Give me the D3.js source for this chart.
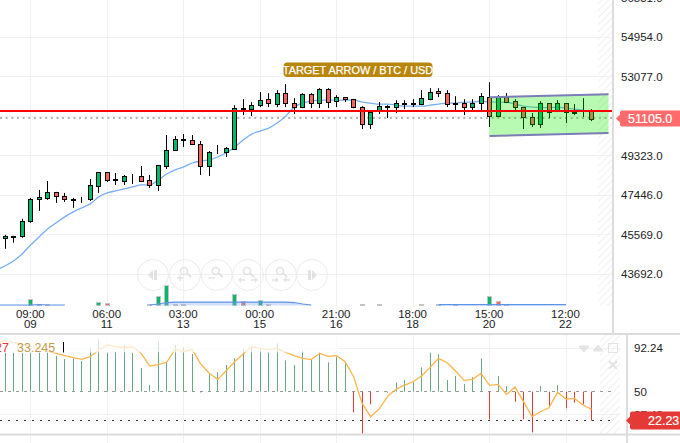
<!DOCTYPE html>
<html>
<head>
<meta charset="utf-8">
<style>
html, body { margin: 0; padding: 0; background: #fff; overflow: hidden; }
svg { display: block; font-family: "Liberation Sans", Arial, sans-serif; }
.domain { display: none; }
</style>
<script src="https://cdnjs.cloudflare.com/ajax/libs/d3/7.8.5/d3.min.js"></script>
</head>
<body>
<script>
//Price bars
var opens = [45365,45436,45460,46171,47214,47261,47545,47356,47190,47214,47214,47830,48493,48114,48067,48304,48304,48114,47877,48778,49584,50058,50058,49868,48778,49442,49489,49631,51527,51527,51717,52001,51764,52286,51812,51622,52238,51812,52475,51906,52096,52001,51622,50816,51480,51622,51622,51764,51764,51764,52001,52380,52286,51764,51812,51622,51812,52096,51195,52096,51906,51622,51148,50816,51812,51432,51812,51338,51432,51432];
var highs = [45555,45507,46313,47308,47688,48114,47593,47545,47308,47356,48209,48493,48493,48493,48399,48446,48825,48399,48873,50295,50247,50342,50295,50010,49536,49821,49726,51717,52001,51859,52333,52286,52428,52712,52049,52286,52286,52522,52522,52191,52096,52001,51669,51385,51859,51717,51954,51954,52001,52428,52522,52522,52428,52143,52001,52001,52286,52807,52191,52286,52001,51622,51338,51906,51812,51954,51812,51764,52049,51527];
var lows = [44891,45175,45412,46124,46692,47214,47072,47119,46834,47072,47166,47545,48067,47925,47925,47972,48067,47782,47640,48683,49536,49726,49868,48399,48351,49394,49252,49631,51243,51195,51622,51622,51622,51622,51290,51575,51575,51575,51575,51622,51859,51575,50579,50579,51290,51100,51338,51527,51622,51717,51954,52096,51622,51432,51243,51432,51480,50674,51148,51812,51480,50579,50674,50627,51100,51385,50864,51243,51148,50958];
var closes = [45460,45484,46171,47214,47308,47545,47356,47214,47237,47237,47877,48493,48114,48162,48304,48328,48067,47877,48825,49584,50105,50105,49868,48778,49442,49489,49678,51575,51575,51717,51954,51812,52286,51812,51622,52238,51812,52475,51859,52096,52001,51622,50816,51385,51669,51669,51812,51812,51812,52049,52333,52286,51764,51812,51622,51812,52143,51195,52096,51859,51622,51148,50816,51812,51385,51812,51385,51385,51480,51053];

//Moving average on the price pane, first value is the bar before the window
var priceMA = [43896,44085,44322,44654,45081,45460,45839,46124,46408,46645,46834,47024,47356,47545,47640,47735,47830,47925,47925,48162,48446,48636,48778,48967,49062,49110,49252,49442,49726,50058,50342,50484,50627,50864,51195,51622,51812,51906,51954,51954,51954,51954,51954,51859,51812,51764,51764,51717,51669,51669,51669,51717,51764,51812,51812,51859,51859,51906,51859,51859,51859,51764,51669,51622,51598,51598,51622,51575,51527,51480];

//Volume: positive is an up bar, negative a down bar
var volumes = [0,0,0,6,-1.5,1.5,0,0,0,0,0,3,-2,0.5,0.5,0.5,0.5,1,9,20,-1.5,-1,0.5,0.5,0.5,0.5,0.5,11,-4.5,0.5,5,-1,0.5,0.5,0.5,0.5,0.5,0.5,0.5,0.5,0.5,0.5,1.5,0.5,1.5,0.5,0.5,0.5,0.5,1.5,0.5,1,0.5,1.5,0.5,0.5,0.5,9.5,-4.5,-1,0.5,0.5,0.5,0.5,0.5,0.5,0.5,0.5,0.5,0.5];
var volumeMA = [0.5,0.5,0.5,0.5,0.5,1,0.5,0.5,0.5,0,0,0,0,0,0,0,0,0,0.5,1.5,3,3.5,3.5,3.5,3.5,3.5,3.5,3.5,3.5,3.5,3.5,3.5,3.5,3.5,3.5,3,1.5,0.5,0,0,0,0,0,0,0,0,0,0,0,0,0,0,0.8,0.8,0.8,0.8,0.8,0.8,0.8,0.8,0.8,0.8,0.8,0.8,0.8,0.8,0.8,0.8];

//Lower pane
var histogram = [88,88,88,88,88,88,84.7,81.8,82.5,79.9,92.2,101,88,89,95.4,88,73,56.5,99.3,79.2,95.4,92.8,86.7,49.4,66.9,68.8,76,82.5,91.5,94.5,92.2,88.3,97,80.5,76,90.3,80.8,88.3,78.6,84,77.6,29.9,9.1,37.7,50,49.2,59,61.4,60.4,73.7,88,86.4,61.4,65.3,57.5,64,82.5,23.1,65.3,55.5,40.3,23.1,10.4,55.5,36.4,56.5,33.8,39.3,37.7,21.8];
var signal = [99.3,99.3,98,96.1,93.8,92.2,89.6,87.3,85.1,83.1,81.5,84.1,90.6,95.4,93.8,92.8,93.8,87.3,75,76.3,78.6,91.5,89,91.2,76.9,67.9,62,70.4,79.2,86.7,93.8,92.2,90.9,92.2,88.3,85.1,82.5,81.2,87.3,84.4,85.1,79.2,64.6,38.6,25.7,33.1,45.5,52.3,56.5,59.7,65.3,73.7,82.5,78.2,70.1,61,62,67.9,56.2,57.1,47.4,54.5,40.3,25.7,30.5,34.4,49.4,42.9,43.5,37,32.8];

//Tick labels
var priceTicks = [56831,54954,53077,51200,49323,47446,45569,43692];
var lowerTicks = [92.24,50,27.48];
var timeTickIndex = [3,12,21,30,39,48,57,66];
var timeLabels = ["09:00","06:00","03:00","00:00","21:00","18:00","15:00","12:00"];
var dayLabels = ["09","11","13","15","16","18","20","22"];

//Drawn objects on the price pane
var targetPrice = 51432;
var lastPrice = 51105;
var channelIndex = [57,71];
var channelTop = [52096,52238];
var channelBottom = [50247,50390];

//Width and height
var w = 680;
var h = 443;
var mainRight = 613;
var volumeBase = 305.5;

var upColor = "#00b96b";
var downColor = "#f4665c";
var gridColor = "#f1f1f1";
var sepColor = "#dcdcdc";

//Scales
var x = d3.scaleLinear().domain([0,69]).range([5.3,591.5]);
var y = d3.scaleLinear().domain([49323,43692]).range([155.5,274]);
var yVol = d3.scaleLinear().domain([0,20]).range([volumeBase,285.7]);
var yLow = d3.scaleLinear().domain([50,92.24]).range([391.7,348.3]);

//Keep thin marks on whole pixels
function snap(v) { return Math.round(v - 0.5) + 0.5; }

//Create SVG element
var svg = d3.select("body")
	.append("svg")
	.attr("width", w)
	.attr("height", h);

//Hatch for the empty area on the right
var defs = svg.append("defs");
var hatch = defs.append("pattern")
	.attr("id", "hatch")
	.attr("width", 5)
	.attr("height", 5)
	.attr("patternUnits", "userSpaceOnUse")
	.attr("patternTransform", "rotate(45)");
hatch.append("line")
	.attr("x1", 0).attr("y1", 0).attr("x2", 0).attr("y2", 5)
	.attr("stroke", "#f0f0f0")
	.attr("stroke-width", 2);

svg.append("rect").attr("x", 598).attr("y", 0).attr("width", 15).attr("height", 306).attr("fill", "url(#hatch)");
svg.append("rect").attr("x", 600).attr("y", 335).attr("width", 20).attr("height", 99).attr("fill", "url(#hatch)");

//Grid
var grid = svg.append("g").attr("fill", "none").attr("stroke", gridColor);
grid.selectAll(".vMain").data(timeTickIndex).enter().append("line")
	.attr("x1", function(d) { return snap(x(d)); }).attr("x2", function(d) { return snap(x(d)); })
	.attr("y1", 0).attr("y2", volumeBase);
grid.selectAll(".vLow").data(timeTickIndex).enter().append("line")
	.attr("x1", function(d) { return snap(x(d)); }).attr("x2", function(d) { return snap(x(d)); })
	.attr("y1", 335).attr("y2", h);
grid.selectAll(".hMain").data(priceTicks).enter().append("line")
	.attr("x1", 0).attr("x2", mainRight)
	.attr("y1", function(d) { return snap(y(d)); }).attr("y2", function(d) { return snap(y(d)); });
grid.selectAll(".hLow").data([92.24,27.48]).enter().append("line")
	.attr("x1", 0).attr("x2", 620)
	.attr("y1", function(d) { return snap(yLow(d)); }).attr("y2", function(d) { return snap(yLow(d)); });

//Dotted last price line
svg.append("line")
	.attr("x1", 0).attr("x2", mainRight)
	.attr("y1", y(lastPrice)).attr("y2", y(lastPrice))
	.attr("stroke", "#999")
	.attr("stroke-width", 1.5)
	.attr("stroke-dasharray", "2,3.65");

//Volume bars
var volBars = volumes.map(function(v, i) { return {i: i, v: v}; })
	.filter(function(d) { return Math.abs(d.v) >= 1; });
svg.selectAll(".vol").data(volBars).enter().append("rect")
	.attr("x", function(d) { return snap(x(d.i)) - 2; })
	.attr("y", function(d) { return snap(yVol(Math.abs(d.v))); })
	.attr("width", 4)
	.attr("height", function(d) { return volumeBase - snap(yVol(Math.abs(d.v))); })
	.attr("fill", function(d) { return d.v > 0 ? upColor : downColor; })
	.attr("stroke", "#c4c4c4")
	.attr("stroke-width", 1);

//Volume average
var volArea = d3.area()
	.defined(function(d) { return d > 0; })
	.x(function(d, i) { return x(i - 1); })
	.y0(volumeBase)
	.y1(function(d) { return yVol(d); });
var volLine = d3.line()
	.defined(function(d) { return d > 0; })
	.x(function(d, i) { return x(i - 1); })
	.y(function(d) { return yVol(d); });
svg.append("path").attr("d", volArea(volumeMA)).attr("fill", "#7fa8ee").attr("fill-opacity", 0.35);
svg.append("path").attr("d", volLine(volumeMA)).attr("fill", "none").attr("stroke", "#5f93ea").attr("stroke-width", 1.2);

//Price moving average
var maLine = d3.line()
	.curve(d3.curveMonotoneX)
	.x(function(d, i) { return x(i - 1); })
	.y(function(d) { return y(d); });
svg.append("path")
	.attr("d", maLine(priceMA))
	.attr("fill", "none")
	.attr("stroke", "#78aef5")
	.attr("stroke-width", 1.3);

//Candles
var candles = svg.append("g").selectAll("g")
	.data(opens)
	.enter()
	.append("g");
candles.append("line")
	.attr("x1", function(d, i) { return snap(x(i)); })
	.attr("x2", function(d, i) { return snap(x(i)); })
	.attr("y1", function(d, i) { return y(highs[i]); })
	.attr("y2", function(d, i) { return y(lows[i]); })
	.attr("stroke", "#000")
	.attr("stroke-width", 1);
candles.append("rect")
	.attr("x", function(d, i) { return snap(x(i)) - 2; })
	.attr("y", function(d, i) { return snap(y(Math.max(opens[i], closes[i]))); })
	.attr("width", 4)
	.attr("height", function(d, i) { return snap(y(Math.min(opens[i], closes[i]))) - snap(y(Math.max(opens[i], closes[i]))); })
	.attr("fill", function(d, i) { return closes[i] >= opens[i] ? upColor : downColor; })
	.attr("stroke", "#000")
	.attr("stroke-width", 1);

//Green channel
var channelShape = channelIndex.map(function(d, i) { return [x(d), y(channelTop[i])]; })
	.concat(channelIndex.map(function(d, i) { return [x(d), y(channelBottom[i])]; }).reverse());
svg.append("path")
	.attr("d", d3.line()(channelShape) + "Z")
	.attr("fill", "rgb(20,240,0)")
	.attr("fill-opacity", 0.3);
[channelTop, channelBottom].forEach(function(edge) {
	svg.append("line")
		.attr("x1", x(channelIndex[0])).attr("x2", x(channelIndex[1]))
		.attr("y1", y(edge[0])).attr("y2", y(edge[1]))
		.attr("stroke", "#7c7cb8")
		.attr("stroke-width", 2);
});

//Red target line
svg.append("line")
	.attr("x1", 0).attr("x2", mainRight)
	.attr("y1", y(targetPrice)).attr("y2", y(targetPrice))
	.attr("stroke", "#f00")
	.attr("stroke-width", 2);

//Title tag
svg.append("rect")
	.attr("x", 283.5).attr("y", 62.5)
	.attr("width", 149).attr("height", 14.5).attr("rx", 4)
	.attr("fill", "#b8860b");
svg.append("text")
	.attr("x", 358).attr("y", 74)
	.attr("text-anchor", "middle")
	.attr("font-size", 10.9)
	.attr("fill", "#fff")
	.attr("stroke", "#fff")
	.attr("stroke-width", 0.25)
	.text("TARGET ARROW / BTC / USD");

//Navigation buttons
var navCenters = [153,185,216.7,248,281,312];
var navColor = "#e2e2e2";
var nav = svg.append("g").selectAll("g").data(navCenters).enter().append("g")
	.attr("transform", function(d) { return "translate(" + d + ",275)"; });
nav.append("circle").attr("r", 15.5).attr("fill", "none").attr("stroke", "#ececec").attr("stroke-width", 1);
nav.each(function(d, i) {
	var g = d3.select(this);
	if (i == 0) {
		g.append("path").attr("d", "M-5,0L0,-5V5Z").attr("fill", navColor);
		g.append("rect").attr("x", 1).attr("y", -5).attr("width", 3).attr("height", 10).attr("fill", navColor);
	} else if (i == 5) {
		g.append("path").attr("d", "M5,0L0,-5V5Z").attr("fill", navColor);
		g.append("rect").attr("x", -4).attr("y", -5).attr("width", 3).attr("height", 10).attr("fill", navColor);
	} else {
		g.append("circle").attr("cx", -1).attr("cy", -4).attr("r", 3.5).attr("fill", "none").attr("stroke", navColor).attr("stroke-width", 1.5);
		g.append("line").attr("x1", 2).attr("y1", -1.5).attr("x2", 6).attr("y2", 2).attr("stroke", navColor).attr("stroke-width", 2);
		var mark = {1: "M-8,3H-2M-5,0V6", 2: "M-8,3H-2", 3: "M-9,5H-3M-9,5l2,-2M-9,5l2,2M3,5H9M9,5l-2,-2M9,5l-2,2", 4: "M-9,5H-3M-3,5l-2,-2M-3,5l-2,2M3,5H9M3,5l2,-2M3,5l2,2"}[i];
		g.append("path").attr("d", mark).attr("fill", "none").attr("stroke", navColor).attr("stroke-width", 1.3);
	}
});

//Time axis, two rows of labels
var timeAxis = d3.axisBottom(x)
	.tickValues(timeTickIndex)
	.tickSize(0)
	.tickFormat(function(d, i) { return timeLabels[i]; });
var dayAxis = d3.axisBottom(x)
	.tickValues(timeTickIndex)
	.tickSize(0)
	.tickFormat(function(d, i) { return dayLabels[i]; });
svg.append("g").attr("transform", "translate(-1,307)").call(timeAxis);
svg.append("g").attr("transform", "translate(-1,317)").call(dayAxis);

//Price axis
var priceAxis = d3.axisRight(y)
	.tickValues(priceTicks)
	.tickSize(0)
	.tickFormat(d3.format(".1f"));
svg.append("g").attr("transform", "translate(618,0)").call(priceAxis);

//Lower pane reference lines
svg.append("line")
	.attr("x1", 0).attr("x2", 615)
	.attr("y1", snap(yLow(50))).attr("y2", snap(yLow(50)))
	.attr("stroke", "#999").attr("stroke-dasharray", "3,5");
svg.append("line")
	.attr("x1", 0).attr("x2", 615)
	.attr("y1", snap(yLow(21.5))).attr("y2", snap(yLow(21.5)))
	.attr("stroke", "#333").attr("stroke-dasharray", "2,6");

//Histogram
svg.append("g").selectAll("line")
	.data(histogram)
	.enter()
	.append("line")
	.attr("x1", function(d, i) { return snap(x(i)); })
	.attr("x2", function(d, i) { return snap(x(i)); })
	.attr("y1", yLow(50))
	.attr("y2", function(d) { return yLow(d); })
	.attr("stroke", function(d) { return d >= 50 ? "#6aa883" : "#e53935"; })
	.attr("stroke-width", 1);

//Signal line
var signalLine = d3.line()
	.x(function(d, i) { return x(i - 1); })
	.y(function(d) { return yLow(d); });
svg.append("path")
	.attr("d", signalLine(signal))
	.attr("fill", "none")
	.attr("stroke", "#ffb54d")
	.attr("stroke-width", 1.3);

//Legend row washes out what is behind it
svg.append("rect")
	.attr("x", 0).attr("y", 335)
	.attr("width", 338).attr("height", 17.5)
	.attr("fill", "#fff").attr("fill-opacity", 0.7);
svg.append("text").attr("x", 9).attr("y", 352).attr("text-anchor", "end")
	.attr("font-size", 12.5).attr("fill", "#e53935").text("27");
svg.append("text").attr("x", 17).attr("y", 352)
	.attr("font-size", 12.5).attr("fill", "#c49a50").text("33.245");
svg.append("line").attr("x1", 63.5).attr("x2", 63.5).attr("y1", 342).attr("y2", 352.5).attr("stroke", "#000");

//Pane controls
var ctrl = "#e4e4e4";
svg.append("path").attr("d", "M580,346.5h8l-4,4.5Z").attr("fill", ctrl).attr("stroke", ctrl).attr("stroke-width", 2).attr("stroke-linejoin", "round");
svg.append("path").attr("d", "M594,350.5l4,-4.5l4,4.5Z").attr("fill", ctrl).attr("stroke", ctrl).attr("stroke-width", 2).attr("stroke-linejoin", "round");
svg.append("rect").attr("x", 608.5).attr("y", 343.5).attr("width", 9).attr("height", 9).attr("fill", "none").attr("stroke", ctrl);
svg.append("path").attr("d", "M609,361l8,8M617,361l-8,8").attr("stroke", ctrl).attr("stroke-width", 2);

//Lower axis
var lowerAxis = d3.axisRight(yLow)
	.tickValues(lowerTicks)
	.tickSize(0)
	.tickFormat(function(d) { return d; });
svg.append("g").attr("transform", "translate(631,0)").call(lowerAxis);

//Axis text
svg.selectAll(".tick text")
	.attr("font-family", "Liberation Sans, Arial, sans-serif")
	.attr("font-size", 11.5)
	.attr("fill", "#222");

//Separators
svg.append("rect").attr("x", 612).attr("y", 0).attr("width", 2).attr("height", 334).attr("fill", sepColor);
svg.append("rect").attr("x", 626).attr("y", 334).attr("width", 2).attr("height", 109).attr("fill", sepColor);
svg.append("rect").attr("x", 0).attr("y", 333).attr("width", w).attr("height", 2).attr("fill", sepColor);
svg.append("rect").attr("x", 0).attr("y", 433.5).attr("width", w).attr("height", 2).attr("fill", sepColor);

//Price tags
function tag(top, bottom, left, color) {
	var mid = (top + bottom) / 2;
	svg.append("path")
		.attr("d", "M" + (left - 2) + "," + mid + "L" + (left + 2) + "," + (mid - 4) + "V" + (top + 2) + "Q" + (left + 2) + "," + top + " " + (left + 4) + "," + top
			+ "H" + w + "V" + bottom + "H" + (left + 4) + "Q" + (left + 2) + "," + bottom + " " + (left + 2) + "," + (bottom - 2) + "V" + (mid + 4) + "Z")
		.attr("fill", color);
}
tag(110.5, 126.5, 618, "#ff6b6b");
svg.append("text").attr("x", 628).attr("y", 122.7)
	.attr("font-size", 12.5).attr("fill", "#fff").attr("stroke", "#fff").attr("stroke-width", 0.2)
	.text(d3.format(".1f")(lastPrice));
tag(411.5, 429.5, 628, "#e53935");
svg.append("text").attr("x", 648).attr("y", 424.5)
	.attr("font-size", 12.5).attr("fill", "#fff").attr("stroke", "#fff").attr("stroke-width", 0.2)
	.text("22.23");
</script>
</body>
</html>
